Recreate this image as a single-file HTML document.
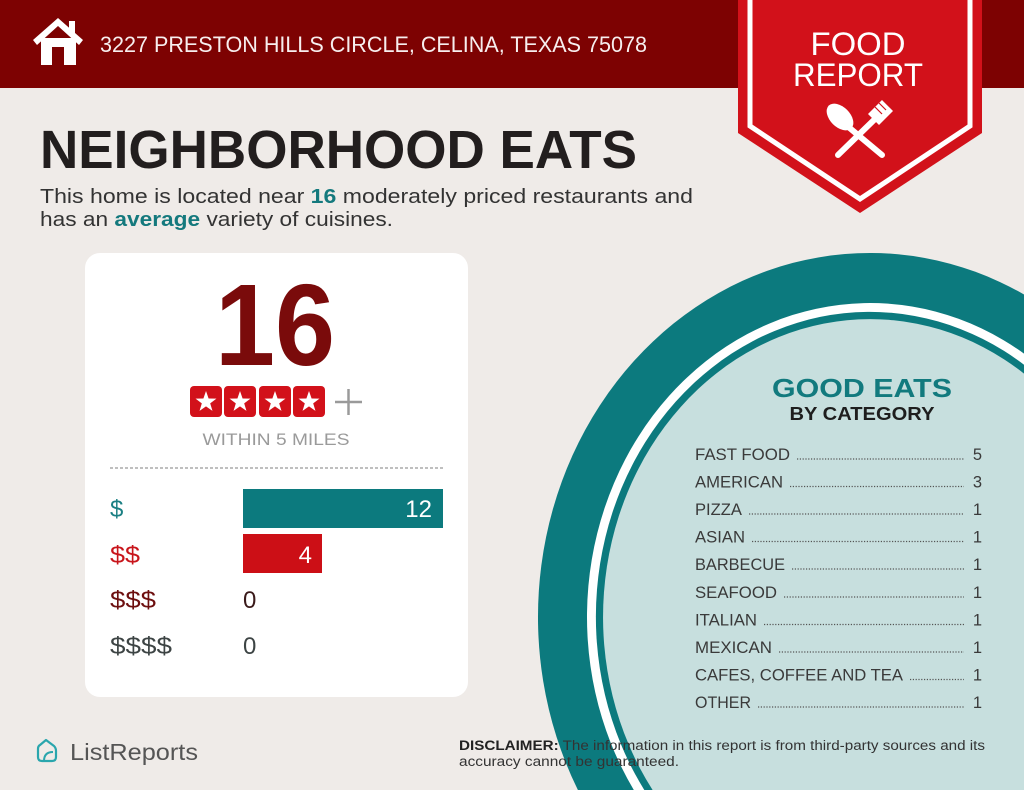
<!DOCTYPE html>
<html><head><meta charset="utf-8"><style>
html,body{margin:0;padding:0;background:#efebe8;width:1024px;height:790px;overflow:hidden;}
svg{display:block;}
text{font-family:"Liberation Sans",sans-serif;}
</style></head><body>
<svg width="1024" height="790" viewBox="0 0 1024 790" xmlns="http://www.w3.org/2000/svg">
<rect x="0" y="0" width="1024" height="790" fill="#efebe8"/>
<!-- plate rings (ellipse arcs clipped to frame) -->
<path d="M1024,294.5 A332,364 0 0 0 577.9,790 L1024,790 Z" fill="#0c7a7e"/>
<path d="M1024,353.6 A283,314 0 0 0 633.8,790 L1024,790 Z" fill="#ffffff"/>
<path d="M1024,364.7 A274,305 0 0 0 644.3,790 L1024,790 Z" fill="#0c7a7e"/>
<path d="M1024,373.6 A267,298 0 0 0 652.6,790 L1024,790 Z" fill="#c7dfde"/>

<!-- header -->
<rect x="0" y="0" width="1024" height="88" fill="#7d0202"/>
<!-- house icon -->
<g fill="#ffffff">
<rect x="41" y="38" width="35" height="27"/>
<rect x="69" y="21" width="6" height="12"/>
<path d="M33,40 L58,18 L83,40 L79,45 L58,26 L37,45 Z"/>
</g>
<rect x="52" y="47" width="12" height="18" fill="#7d0202"/>
<text x="100" y="52" font-size="22" fill="#f7eeee" textLength="547" lengthAdjust="spacingAndGlyphs">3227 PRESTON HILLS CIRCLE, CELINA, TEXAS 75078</text>

<!-- banner -->
<polygon points="738,0 982,0 982,133 860,213 738,133" fill="#d2111a"/>
<polyline points="750,0 750,126 860,199 970,126 970,0" fill="none" stroke="#ffffff" stroke-width="5"/>
<text x="858" y="55" font-size="32" fill="#ffffff" text-anchor="middle" textLength="95" lengthAdjust="spacingAndGlyphs">FOOD</text>
<text x="858" y="86" font-size="32" fill="#ffffff" text-anchor="middle" textLength="130" lengthAdjust="spacingAndGlyphs">REPORT</text>
<!-- spoon & fork -->
<g fill="#ffffff" stroke="#ffffff" stroke-linecap="round">
<line x1="846" y1="125" x2="882" y2="155" stroke-width="6"/>
<ellipse cx="840" cy="117" rx="10" ry="16" transform="rotate(-45 840 117)" stroke="none"/>
<line x1="876" y1="118" x2="838" y2="155" stroke-width="6"/>
<path d="M868,114 L882,100 L893,111 L879,125 Z" stroke="none"/>
</g>
<g stroke="#d2111a" stroke-width="1.2">
<line x1="879" y1="103" x2="886" y2="110"/>
<line x1="883" y1="100" x2="890" y2="107"/>
<line x1="875" y1="107" x2="882" y2="114"/>
</g>

<!-- title -->
<text x="40" y="168" font-size="54" font-weight="bold" fill="#221e1e" textLength="597" lengthAdjust="spacingAndGlyphs">NEIGHBORHOOD EATS</text>
<text x="40" y="203" font-size="20" fill="#333333" textLength="653" lengthAdjust="spacingAndGlyphs">This home is located near <tspan font-weight="bold" fill="#14797d">16</tspan> moderately priced restaurants and</text>
<text x="40" y="226" font-size="20" fill="#333333" textLength="353" lengthAdjust="spacingAndGlyphs">has an <tspan font-weight="bold" fill="#14797d">average</tspan> variety of cuisines.</text>

<!-- card -->
<rect x="85" y="253" width="383" height="444" rx="15" ry="15" fill="#ffffff"/>
<text x="275" y="365" font-size="116" font-weight="bold" fill="#7a0b0b" text-anchor="middle" textLength="120" lengthAdjust="spacingAndGlyphs">16</text>
<g fill="#d2111a">
<rect x="190" y="386" width="32" height="31" rx="4"/>
<rect x="224" y="386" width="32" height="31" rx="4"/>
<rect x="259" y="386" width="32" height="31" rx="4"/>
<rect x="293" y="386" width="32" height="31" rx="4"/>
</g>
<g fill="#ffffff">
<path transform="translate(206 402)" d="M0,-11 L2.59,-3.56 L10.46,-3.4 L4.18,1.36 L6.47,8.9 L0,4.4 L-6.47,8.9 L-4.18,1.36 L-10.46,-3.4 L-2.59,-3.56 Z"/>
<path transform="translate(240 402)" d="M0,-11 L2.59,-3.56 L10.46,-3.4 L4.18,1.36 L6.47,8.9 L0,4.4 L-6.47,8.9 L-4.18,1.36 L-10.46,-3.4 L-2.59,-3.56 Z"/>
<path transform="translate(275 402)" d="M0,-11 L2.59,-3.56 L10.46,-3.4 L4.18,1.36 L6.47,8.9 L0,4.4 L-6.47,8.9 L-4.18,1.36 L-10.46,-3.4 L-2.59,-3.56 Z"/>
<path transform="translate(309 402)" d="M0,-11 L2.59,-3.56 L10.46,-3.4 L4.18,1.36 L6.47,8.9 L0,4.4 L-6.47,8.9 L-4.18,1.36 L-10.46,-3.4 L-2.59,-3.56 Z"/>
</g>
<g stroke="#9a9a9a" stroke-width="2.5">
<line x1="335" y1="402" x2="362" y2="402"/>
<line x1="348.5" y1="389" x2="348.5" y2="415"/>
</g>
<text x="276" y="445" font-size="17" fill="#9a9a9a" text-anchor="middle" textLength="147" lengthAdjust="spacingAndGlyphs">WITHIN 5 MILES</text>
<line x1="110" y1="468" x2="443" y2="468" stroke="#aaaaaa" stroke-width="1.5" stroke-dasharray="3 2"/>

<rect x="243" y="489" width="200" height="39" fill="#0c7a7e"/>
<rect x="243" y="534" width="79" height="39" fill="#cc0f16"/>
<text x="110" y="517" font-size="24" fill="#1a7f83">$</text>
<text x="432" y="517" font-size="24" fill="#ffffff" text-anchor="end">12</text>
<text x="110" y="563" font-size="24" fill="#c8151b" textLength="30" lengthAdjust="spacingAndGlyphs">$$</text>
<text x="312" y="563" font-size="24" fill="#ffffff" text-anchor="end">4</text>
<text x="110" y="608" font-size="24" fill="#6d0f0f" textLength="46" lengthAdjust="spacingAndGlyphs">$$$</text>
<text x="243" y="608" font-size="24" fill="#3a1a1a">0</text>
<text x="110" y="654" font-size="24" fill="#3d4444" textLength="62" lengthAdjust="spacingAndGlyphs">$$$$</text>
<text x="243" y="654" font-size="24" fill="#3d4444">0</text>

<!-- good eats -->
<text x="862" y="397" font-size="26" font-weight="bold" fill="#127a7e" text-anchor="middle" textLength="180" lengthAdjust="spacingAndGlyphs">GOOD EATS</text>
<text x="862" y="420" font-size="18" font-weight="bold" fill="#1e1e1e" text-anchor="middle" textLength="145" lengthAdjust="spacingAndGlyphs">BY CATEGORY</text>

<g font-size="16.5" fill="#3a3a3a">
<text x="695" y="460" textLength="95" lengthAdjust="spacingAndGlyphs">FAST FOOD</text>
<text x="695" y="487.5" textLength="88" lengthAdjust="spacingAndGlyphs">AMERICAN</text>
<text x="695" y="515" textLength="47" lengthAdjust="spacingAndGlyphs">PIZZA</text>
<text x="695" y="542.5" textLength="50" lengthAdjust="spacingAndGlyphs">ASIAN</text>
<text x="695" y="570" textLength="90" lengthAdjust="spacingAndGlyphs">BARBECUE</text>
<text x="695" y="598" textLength="82" lengthAdjust="spacingAndGlyphs">SEAFOOD</text>
<text x="695" y="625.5" textLength="62" lengthAdjust="spacingAndGlyphs">ITALIAN</text>
<text x="695" y="653" textLength="77" lengthAdjust="spacingAndGlyphs">MEXICAN</text>
<text x="695" y="680.5" textLength="208" lengthAdjust="spacingAndGlyphs">CAFES, COFFEE AND TEA</text>
<text x="695" y="708" textLength="56" lengthAdjust="spacingAndGlyphs">OTHER</text>
</g>
<g font-size="16.5" fill="#3a3a3a" text-anchor="end">
<text x="982" y="460">5</text>
<text x="982" y="487.5">3</text>
<text x="982" y="515">1</text>
<text x="982" y="542.5">1</text>
<text x="982" y="570">1</text>
<text x="982" y="598">1</text>
<text x="982" y="625.5">1</text>
<text x="982" y="653">1</text>
<text x="982" y="680.5">1</text>
<text x="982" y="708">1</text>
</g>
<g stroke="#555555" stroke-width="1.3" stroke-dasharray="1.2 1.6">
<line x1="797" y1="459" x2="964" y2="459"/>
<line x1="790" y1="486.5" x2="964" y2="486.5"/>
<line x1="749" y1="514" x2="964" y2="514"/>
<line x1="752" y1="541.5" x2="964" y2="541.5"/>
<line x1="792" y1="569" x2="964" y2="569"/>
<line x1="784" y1="597" x2="964" y2="597"/>
<line x1="764" y1="624.5" x2="964" y2="624.5"/>
<line x1="779" y1="652" x2="964" y2="652"/>
<line x1="910" y1="679.5" x2="964" y2="679.5"/>
<line x1="758" y1="707" x2="964" y2="707"/>
</g>

<!-- footer -->
<path d="M46,740 L54,746 Q56,748 56,751 L56,757 Q56,761 52,761 L42,761 Q38,761 38,757 L38,749 Q38,746 40,745 Z" fill="none" stroke="#2aa6ad" stroke-width="2.2" stroke-linejoin="round"/>
<path d="M44,761 Q44,752 53,752" fill="none" stroke="#2aa6ad" stroke-width="2"/>
<text x="70" y="760" font-size="23" fill="#555555" textLength="128" lengthAdjust="spacingAndGlyphs">ListReports</text>
<text x="459" y="750" font-size="13.5" fill="#333333" textLength="526" lengthAdjust="spacingAndGlyphs"><tspan font-weight="bold" fill="#222222">DISCLAIMER:</tspan> The information in this report is from third-party sources and its</text>
<text x="459" y="766" font-size="13.5" fill="#333333" textLength="220" lengthAdjust="spacingAndGlyphs">accuracy cannot be guaranteed.</text>
</svg>
</body></html>
